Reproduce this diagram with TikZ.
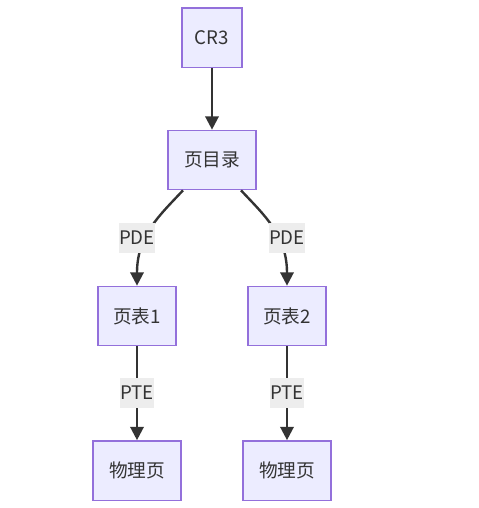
\documentclass[tikz,border=0pt]{standalone}
\usepackage{fontspec}
\setmainfont{Noto Sans CJK SC}
\usetikzlibrary{arrows.meta}
\definecolor{nodefill}{HTML}{ECECFF}
\definecolor{nodeline}{HTML}{9370DB}
\definecolor{edgecol}{HTML}{333333}
\definecolor{lblbg}{HTML}{EDEDED}
\begin{document}
\begin{tikzpicture}[x=0.75pt,y=-0.75pt,
  box/.style={draw=nodeline, fill=nodefill, line width=1pt, inner sep=0pt, text=edgecol,
    font=\fontsize{14}{16}\selectfont, minimum height=44.5pt},
  lbl/.style={fill=lblbg, inner sep=0pt, text=edgecol, font=\fontsize{14}{16}\selectfont,
    minimum height=23pt, minimum width=25.5pt},
  conn/.style={draw=edgecol, line width=1.8pt, -{Triangle[length=10pt,width=10pt]}}]
\useasboundingbox (0,0) rectangle (479,508);
\node[box, minimum width=45pt] (cr3) at (212,37.5) {CR3};
\node[box, minimum width=66pt] (pd) at (212,160) {页目录};
\node[box, minimum width=58.5pt] (pt1) at (137,316) {页表1};
\node[box, minimum width=58.5pt] (pt2) at (287,316) {页表2};
\node[box, minimum width=66pt] (pg1) at (137,470.5) {物理页};
\node[box, minimum width=66pt] (pg2) at (287,470.5) {物理页};

\draw[conn] (cr3) -- (pd);
\draw[conn] ([xshift=-21.75pt]pd.south) .. controls (160,215) and (137,235) .. (pt1.north);
\draw[conn] ([xshift=21.75pt]pd.south) .. controls (264,215) and (287,235) .. (pt2.north);
\draw[conn] (pt1) -- (pg1);
\draw[conn] (pt2) -- (pg2);

\node[lbl] (l1) at (137,238) {PDE};
\node[lbl] (l2) at (287,238) {PDE};
\node[lbl] (l3) at (137,393) {PTE};
\node[lbl] (l4) at (287,393) {PTE};
\end{tikzpicture}
\end{document}
